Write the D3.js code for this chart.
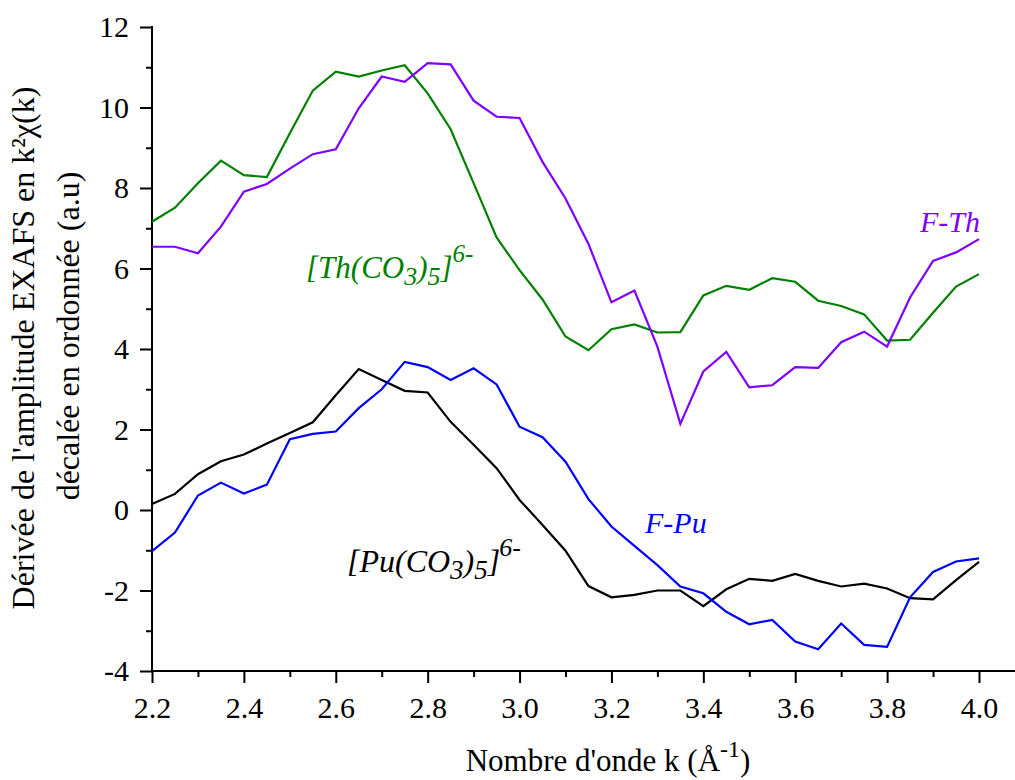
<!DOCTYPE html>
<html>
<head>
<meta charset="utf-8">
<script src="https://cdn.jsdelivr.net/npm/d3@7"></script>
<style>
  html, body { margin: 0; padding: 0; background: #fff; }
  svg { display: block; }
</style>
</head>
<body>
<svg id="chart" width="1015" height="780"></svg>
<script>
// ---- data ----
const kValues = [2.2, 2.25, 2.3, 2.35, 2.4, 2.45, 2.5, 2.55, 2.6, 2.65, 2.7, 2.75, 2.8, 2.85, 2.9, 2.95,
  3.0, 3.05, 3.1, 3.15, 3.2, 3.25, 3.3, 3.35, 3.4, 3.45, 3.5, 3.55, 3.6, 3.65, 3.7, 3.75, 3.8, 3.85, 3.9, 3.95, 4.0];

const thCO3 = [7.16, 7.51, 8.12, 8.68, 8.32, 8.27, 9.36, 10.42, 10.89, 10.77, 10.92, 11.05, 10.35, 9.46, 8.12, 6.77,
  5.96, 5.23, 4.31, 3.97, 4.49, 4.61, 4.41, 4.42, 5.33, 5.57, 5.47, 5.76, 5.67, 5.20, 5.07, 4.86, 4.21, 4.23, 4.90, 5.55, 5.86];

const fTh = [6.54, 6.54, 6.38, 7.04, 7.91, 8.10, 8.48, 8.84, 8.96, 9.98, 10.77, 10.64, 11.10, 11.07, 10.17, 9.77,
  9.74, 8.65, 7.74, 6.61, 5.16, 5.45, 4.06, 2.14, 3.44, 3.93, 3.05, 3.10, 3.55, 3.53, 4.17, 4.43, 4.06, 5.28, 6.19, 6.40, 6.73];

const puCO3 = [0.15, 0.40, 0.89, 1.21, 1.38, 1.65, 1.91, 2.18, 2.85, 3.50, 3.23, 2.96, 2.92, 2.19, 1.62, 1.04,
  0.25, -0.37, -1.01, -1.89, -2.17, -2.11, -2.00, -2.00, -2.39, -1.97, -1.71, -1.76, -1.59, -1.76, -1.90, -1.83, -1.95, -2.19, -2.22, -1.74, -1.29];

const fPu = [-1.02, -0.56, 0.36, 0.68, 0.41, 0.63, 1.76, 1.89, 1.95, 2.53, 3.00, 3.68, 3.55, 3.23, 3.52, 3.12,
  2.07, 1.81, 1.20, 0.27, -0.41, -0.89, -1.37, -1.90, -2.07, -2.53, -2.84, -2.73, -3.27, -3.46, -2.82, -3.35, -3.40, -2.17, -1.54, -1.28, -1.20];

const xMajorTicks = [2.2, 2.4, 2.6, 2.8, 3.0, 3.2, 3.4, 3.6, 3.8, 4.0];
const xMinorTicks = [2.3, 2.5, 2.7, 2.9, 3.1, 3.3, 3.5, 3.7, 3.9];
const yMajorTicks = [-4, -2, 0, 2, 4, 6, 8, 10, 12];
const yMinorTicks = [-3, -1, 1, 3, 5, 7, 9, 11];

// ---- layout ----
const FONT = "'Liberation Serif', 'Times New Roman', Times, 'DejaVu Serif', serif";
const svg = d3.select("#chart").style("font-family", FONT);
const mLeft = 152, mRight = 979, mTop = 27, mBottom = 671;

const x = d3.scaleLinear().domain([2.2, 4.0]).range([mLeft, mRight]);
const y = d3.scaleLinear().domain([-4, 12]).range([mBottom, mTop]);

const AXIS_W = 2;

// minor ticks
svg.append("g").attr("transform", `translate(0,${mBottom})`)
  .call(d3.axisBottom(x).tickValues(xMinorTicks).tickSize(6).tickFormat(""))
  .call(g => g.select(".domain").remove())
  .call(g => g.selectAll("line").attr("stroke-width", AXIS_W));
svg.append("g").attr("transform", `translate(${mLeft},0)`)
  .call(d3.axisLeft(y).tickValues(yMinorTicks).tickSize(6).tickFormat(""))
  .call(g => g.select(".domain").remove())
  .call(g => g.selectAll("line").attr("stroke-width", AXIS_W));

// major x axis
const gx = svg.append("g").attr("transform", `translate(0,${mBottom})`)
  .call(d3.axisBottom(x).tickValues(xMajorTicks).tickSize(12).tickSizeOuter(0).tickPadding(14)
    .tickFormat(d => d.toFixed(1)));
gx.attr("font-family", null).attr("font-size", null);
gx.select(".domain").remove();
gx.selectAll("line").attr("stroke-width", AXIS_W);
gx.selectAll("text").style("font-family", FONT).style("font-size", "30px").attr("fill", "#000");
gx.append("line").attr("x1", mLeft - 1).attr("x2", 1015).attr("y1", 0).attr("y2", 0)
  .attr("stroke", "#000").attr("stroke-width", AXIS_W);

// major y axis
const gy = svg.append("g").attr("transform", `translate(${mLeft},0)`)
  .call(d3.axisLeft(y).tickValues(yMajorTicks).tickSize(12).tickSizeOuter(0).tickPadding(11)
    .tickFormat(d => String(d)));
gy.attr("font-family", null).attr("font-size", null);
gy.select(".domain").remove();
gy.selectAll("line").attr("stroke-width", AXIS_W);
gy.selectAll("text").style("font-family", FONT).style("font-size", "30px").attr("fill", "#000");
gy.append("line").attr("x1", 0).attr("x2", 0).attr("y1", mTop - 1).attr("y2", mBottom + 1)
  .attr("stroke", "#000").attr("stroke-width", AXIS_W);

// ---- lines ----
const series = [
  { values: thCO3, color: "#008000" },
  { values: fTh, color: "#8000ff" },
  { values: puCO3, color: "#000000" },
  { values: fPu, color: "#0000ff" }
];
const line = d3.line().x((d, i) => x(kValues[i])).y(d => y(d));
series.forEach(s => {
  svg.append("path").datum(s.values)
    .attr("d", line)
    .attr("fill", "none")
    .attr("stroke", s.color)
    .attr("stroke-width", 2.2)
    .attr("stroke-linejoin", "miter");
});

// ---- labels ----
function complexLabel(xp, yp, color, metal, size, dxSup) {
  const t = svg.append("text").attr("x", xp).attr("y", yp)
    .attr("fill", color).style("font-family", FONT).style("font-style", "italic").style("font-size", size + "px");
  t.append("tspan").text("[" + metal + "(CO");
  t.append("tspan").attr("dy", 7).style("font-size", Math.round(size * 0.85) + "px").text("3");
  t.append("tspan").attr("dy", -7).text(")");
  t.append("tspan").attr("dy", 7).style("font-size", Math.round(size * 0.85) + "px").text("5");
  t.append("tspan").attr("dy", -7).text("]");
  t.append("tspan").attr("dy", -16).attr("dx", dxSup).style("font-size", Math.round(size * 0.8) + "px").text("6-");
}
complexLabel(306, 278, "#008000", "Th", 31, 0);
complexLabel(347, 572, "#000000", "Pu", 32, -1);

svg.append("text").attr("x", 920).attr("y", 232).attr("fill", "#8000ff")
  .style("font-family", FONT).style("font-style", "italic").style("font-size", "30px").text("F-Th");
svg.append("text").attr("x", 645).attr("y", 533).attr("fill", "#0000ff")
  .style("font-family", FONT).style("font-style", "italic").style("font-size", "30px").text("F-Pu");

// axis titles
const xt = svg.append("text").attr("x", 608).attr("y", 771).attr("text-anchor", "middle")
  .style("font-family", FONT).style("font-size", "31px").attr("fill", "#000");
xt.append("tspan").text("Nombre d'onde k (Å");
xt.append("tspan").attr("dy", -14).style("font-size", "24px").text("-1");
xt.append("tspan").attr("dy", 14).text(")");

const yt = svg.append("g").attr("transform", "translate(34,348) rotate(-90)");
yt.append("text").attr("x", 0).attr("y", 0).attr("text-anchor", "middle")
  .style("font-family", FONT).style("font-size", "32px").attr("fill", "#000")
  .text("Dérivée de l'amplitude EXAFS en k²χ(k)");
yt.append("text").attr("x", 12).attr("y", 45).attr("text-anchor", "middle")
  .style("font-family", FONT).style("font-size", "32px").attr("fill", "#000")
  .text("décalée en ordonnée  (a.u)");
</script>
</body>
</html>
